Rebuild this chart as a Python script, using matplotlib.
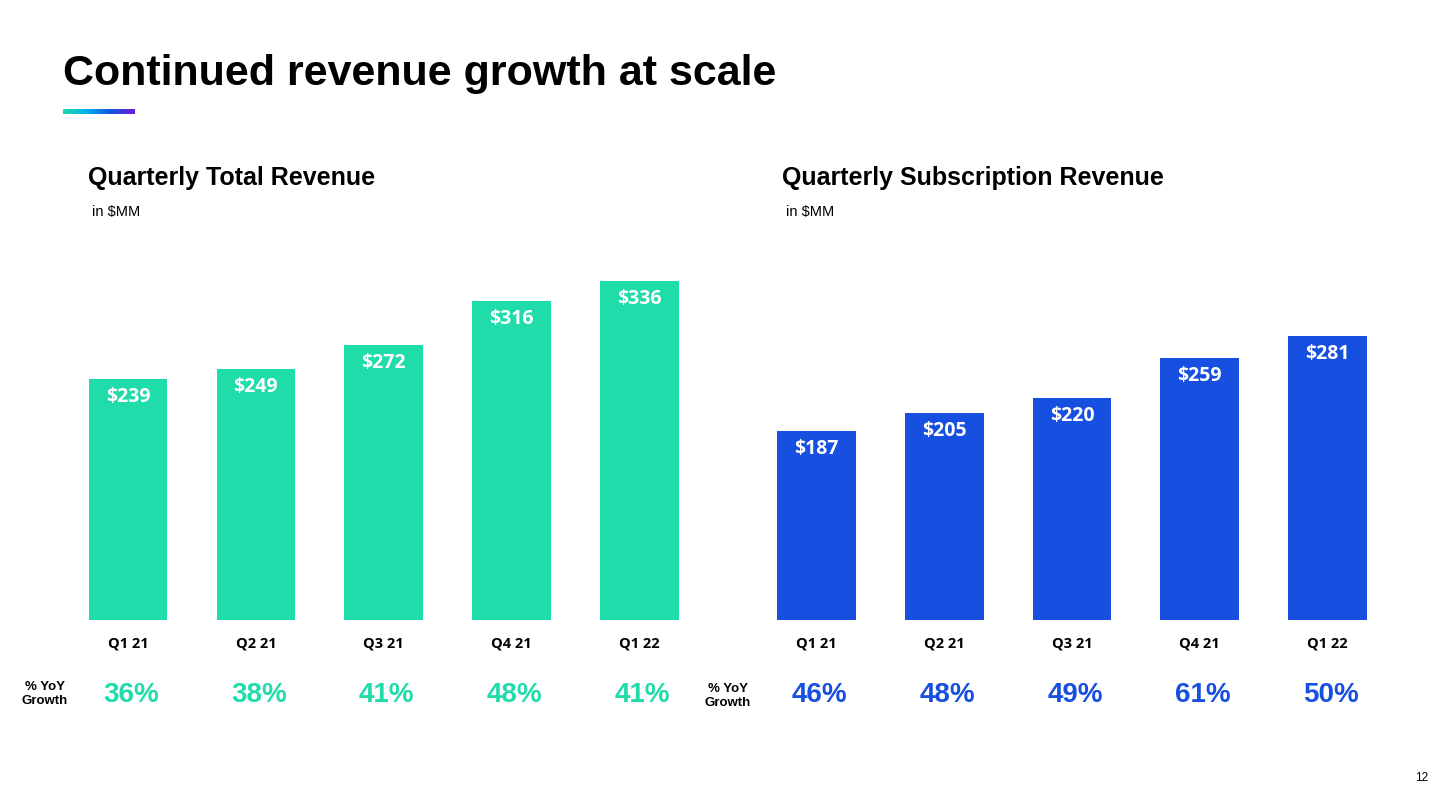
import numpy as np
import matplotlib.pyplot as plt
from matplotlib.colors import LinearSegmentedColormap

quarters = ["Q1 21", "Q2 21", "Q3 21", "Q4 21", "Q1 22"]
total_revenue = [239, 249, 272, 316, 336]
total_growth = [36, 38, 41, 48, 41]
subscription_revenue = [187, 205, 220, 259, 281]
subscription_growth = [46, 48, 49, 61, 50]

GREEN = "#20DBAA"
BLUE = "#1750E0"
W, H = 1445, 807


def px_axes(fig, left, right, bottom, top):
    """Add axes using pixel coordinates (origin at top-left)."""
    return fig.add_axes([left / W, 1 - bottom / H, (right - left) / W, (bottom - top) / H])


def draw_panel(fig, left, right, values, growth, color, title, label_x, yoy_x, yoy_y):
    ax = px_axes(fig, left, right, 620, 620 - 1.01 * 350)
    x = np.arange(len(values))
    bars = ax.bar(x, values, width=0.615, color=color)
    ax.set_xlim(-0.5, len(values) - 0.5)
    ax.set_ylim(0, 350)
    ax.axis("off")
    for b, v in zip(bars, values):
        ax.annotate(f"${v}", (b.get_x() + b.get_width() / 2, v), xytext=(0, -13),
                    textcoords="offset points", ha="center", va="center",
                    color="white", fontsize=14, fontweight="bold", family="Open Sans")
    for i, (q, g) in enumerate(zip(quarters, growth)):
        xp = left + (i + 0.5) * (right - left) / len(values)
        fig.text(xp / W, 1 - 644 / H, q, ha="center", va="center", fontsize=10.5,
                 fontweight="bold", family="Open Sans", color="black")
        fig.text((xp + 3) / W, 1 - 695 / H, f"{g}%", ha="center", va="center", fontsize=20,
                 fontweight="bold", family="Liberation Sans", color=color)
    fig.text(label_x / W, 1 - 178 / H, title, ha="left", va="center", fontsize=18,
             fontweight="bold", family="Liberation Sans")
    fig.text((label_x + 4) / W, 1 - 212 / H, "in $MM", ha="left", va="center",
             fontsize=10.5, family="Liberation Sans")
    fig.text(yoy_x / W, 1 - yoy_y / H, "% YoY\nGrowth", ha="center", va="center",
             fontsize=9.5, fontweight="bold", family="Liberation Sans", linespacing=1.25)


fig = plt.figure(figsize=(W / 100, H / 100), dpi=100)
fig.patch.set_facecolor("white")

fig.text(63 / W, 1 - 74 / H, "Continued revenue growth at scale", ha="left", va="center",
         fontsize=31, fontweight="bold", family="Liberation Sans")

# gradient accent line under the title
grad = LinearSegmentedColormap.from_list("accent", ["#1ED8A8", "#00B0F0", "#1750E0", "#6A1DE0"])
gax = px_axes(fig, 63, 135, 114, 109)
gax.imshow(np.linspace(0, 1, 200)[None, :], aspect="auto", cmap=grad)
gax.axis("off")

draw_panel(fig, 64, 703.5, total_revenue, total_growth, GREEN,
           "Quarterly Total Revenue", 88, 45, 694)
draw_panel(fig, 752.6, 1391.4, subscription_revenue, subscription_growth, BLUE,
           "Quarterly Subscription Revenue", 782, 728, 696)

fig.text(1422 / W, 1 - 778 / H, "12", ha="center", va="center", fontsize=8.5,
         family="Liberation Sans")

fig.savefig("out.png", dpi=100)
